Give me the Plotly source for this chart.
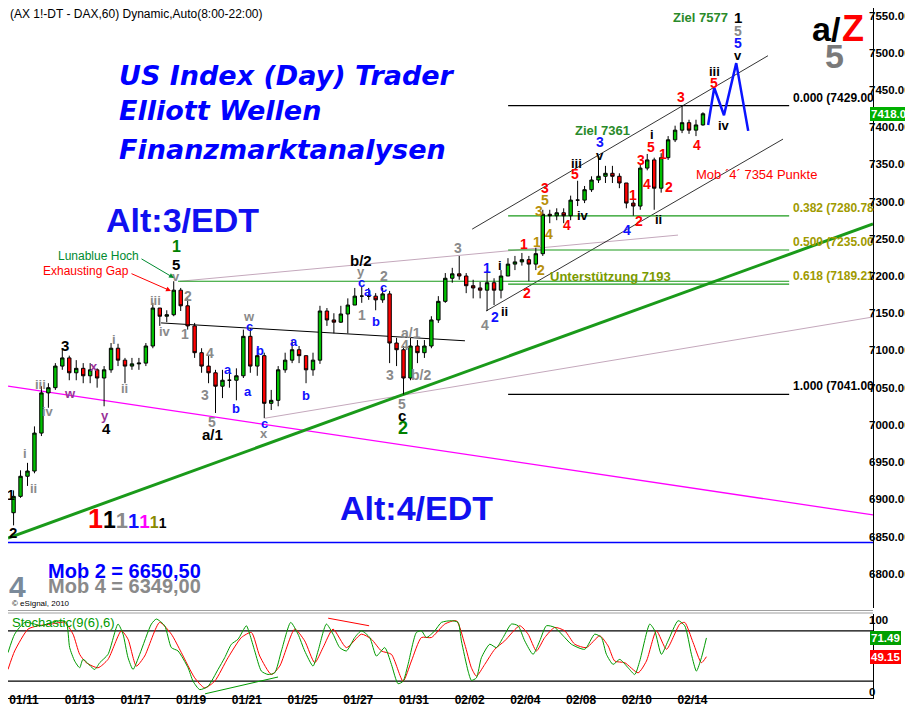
import plotly.graph_objects as go

# ------------------------------------------------------------------ data
TRADING_DAYS = ["01/11", "01/12", "01/13", "01/14", "01/17", "01/18", "01/19", "01/20", "01/21",
                "01/24", "01/25", "01/26", "01/27", "01/28", "01/31", "02/01", "02/02", "02/03",
                "02/04", "02/07", "02/08", "02/09", "02/10", "02/11", "02/14"]
TICK_LABELS = TRADING_DAYS[::2]
BARS_PER_DAY = 4
PRICE_TICKS = list(range(6800, 7551, 50))

FIRST_OPEN = 6882
CLOSE = [6904, 6931, 6938, 6989, 7043, 7050, 7079, 7090, 7070, 7076,
         7066, 7074, 7063, 7074, 7103, 7087, 7079, 7082, 7083, 7106,
         7157, 7146, 7148, 7181, 7160, 7133, 7097, 7079, 7070, 7052,
         7060, 7060, 7066, 7119, 7079, 7093, 7029, 7033, 7074, 7087,
         7101, 7093, 7074, 7087, 7153, 7141, 7138, 7149, 7161, 7173,
         7173, 7173, 7168, 7176, 7110, 7101, 7063, 7106, 7097, 7106,
         7141, 7166, 7197, 7203, 7200, 7187, 7184, 7181, 7191, 7181,
         7200, 7216, 7219, 7222, 7216, 7230, 7283, 7281, 7285, 7281,
         7302, 7302, 7316, 7329, 7334, 7338, 7334, 7325, 7298, 7294,
         7345, 7356, 7318, 7359, 7383, 7396, 7406, 7396, 7403, 7418]
HIGH = [6912, 6939, 6949, 6998, 7052, 7056, 7083, 7103, 7093, 7087,
        7083, 7083, 7076, 7079, 7110, 7109, 7090, 7090, 7090, 7110,
        7164, 7157, 7154, 7193, 7184, 7170, 7137, 7103, 7093, 7074,
        7074, 7076, 7076, 7128, 7130, 7103, 7097, 7047, 7079, 7097,
        7113, 7106, 7093, 7097, 7160, 7157, 7150, 7160, 7170, 7184,
        7187, 7184, 7177, 7184, 7180, 7117, 7106, 7117, 7114, 7114,
        7146, 7173, 7204, 7211, 7227, 7204, 7195, 7192, 7208, 7197,
        7208, 7224, 7227, 7231, 7227, 7238, 7289, 7289, 7291, 7291,
        7308, 7328, 7321, 7334, 7361, 7348, 7348, 7338, 7325, 7312,
        7350, 7364, 7359, 7365, 7388, 7402, 7429, 7410, 7410, 7420]
LOW = [6865, 6902, 6918, 6935, 6985, 7023, 7047, 7074, 7060, 7060,
       7056, 7056, 7050, 7025, 7070, 7079, 7056, 7074, 7074, 7079,
       7103, 7133, 7138, 7146, 7153, 7128, 7090, 7070, 7056, 7016,
       7036, 7050, 7033, 7063, 7070, 7066, 7009, 7020, 7025, 7070,
       7083, 7083, 7056, 7066, 7082, 7133, 7123, 7137, 7123, 7161,
       7164, 7168, 7154, 7164, 7083, 7079, 7041, 7060, 7083, 7090,
       7103, 7137, 7164, 7191, 7195, 7177, 7170, 7170, 7153, 7161,
       7170, 7200, 7208, 7214, 7193, 7208, 7227, 7271, 7275, 7271,
       7275, 7294, 7298, 7313, 7325, 7325, 7325, 7318, 7291, 7281,
       7289, 7342, 7289, 7312, 7356, 7380, 7392, 7391, 7388, 7402]

# stochastic (%K green, %D red), x in trading-day units
STOCH_K_DAY = [-0.575, -0.335, 0.024, 0.383, 0.622, 0.981, 1.340, 1.520, 1.639, 1.819, 1.998, 2.118,
               2.537, 2.717, 3.016, 3.375, 3.555, 3.734, 3.914, 4.153, 4.572, 4.751, 5.051, 5.290,
               5.530, 5.889, 6.068, 6.308, 6.607, 6.966, 7.205, 7.445, 7.684, 7.983, 8.103, 8.283,
               8.522, 8.761, 9.001, 9.240, 9.575, 9.838, 10.077, 10.377, 10.557, 10.856, 11.095,
               11.335, 11.574, 11.873, 12.113, 12.412, 12.651, 12.951, 13.190, 13.429, 13.609,
               13.788, 14.087, 14.267, 14.447, 14.746, 14.985, 15.344, 15.583, 15.703, 15.943,
               16.062, 16.242, 16.421, 16.721, 16.960, 17.199, 17.498, 17.738, 17.977, 18.276,
               18.516, 18.755, 19.054, 19.413, 19.652, 20.131, 20.490, 20.729, 20.909, 21.149,
               21.388, 21.687, 21.927, 22.106, 22.466, 22.645, 22.884, 23.124, 23.483, 23.722,
               23.961, 24.141, 24.320, 24.500]
STOCH_K = [54, 76, 90, 88, 86, 90, 92, 90, 60, 44, 36, 46,
           34, 42, 52, 88, 76, 48, 34, 52, 88, 94, 86, 60,
           56, 36, 20, 10, 14, 34, 48, 64, 70, 86, 76, 56,
           32, 28, 30, 56, 90, 76, 56, 38, 56, 88, 76,
           60, 56, 72, 80, 72, 50, 60, 40, 17, 20,
           40, 78, 80, 72, 80, 90, 92, 90, 68, 32,
           21, 24, 48, 64, 60, 72, 88, 86, 68, 52,
           68, 86, 84, 72, 64, 58, 76, 72, 52, 40,
           46, 36, 28, 44, 88, 80, 52, 68, 92, 86,
           52, 32, 48, 71.49]
STOCH_D_DAY = [-0.575, -0.335, 0.144, 0.503, 0.981, 1.460, 1.759, 1.998, 2.238, 2.657, 3.016, 3.495,
               3.734, 4.033, 4.332, 4.871, 5.290, 5.649, 6.128, 6.487, 6.846, 7.325, 7.804, 8.163,
               8.462, 8.881, 9.181, 9.719, 10.077, 10.437, 10.736, 11.095, 11.574, 12.113, 12.472,
               12.831, 13.190, 13.609, 13.908, 14.267, 14.626, 15.105, 15.524, 15.823, 16.062,
               16.242, 16.541, 16.900, 17.259, 17.798, 18.097, 18.396, 18.695, 19.054, 19.413,
               19.773, 20.191, 20.670, 20.969, 21.208, 21.568, 22.047, 22.346, 22.705, 23.064,
               23.543, 23.722, 24.021, 24.320, 24.500]
STOCH_D = [34, 56, 82, 86, 88, 90, 76, 52, 42, 36, 46, 80,
           70, 38, 50, 90, 76, 54, 24, 12, 20, 48, 72, 78,
           50, 28, 38, 82, 68, 42, 60, 82, 60, 76, 70,
           56, 52, 20, 44, 72, 72, 88, 92, 64, 36,
           26, 40, 58, 68, 86, 76, 56, 72, 84, 80,
           64, 60, 74, 62, 44, 42, 30, 44, 80, 58,
           88, 90, 66, 42, 49.15]

# projected wave path (day, price)
PROJ_DAY = [24.56, 24.78, 25.13, 25.57, 26.0]
PROJ_PRICE = [7403, 7453, 7416, 7486, 7395]

FIB_LEVELS = [("0.000", 7429.00), ("0.382", 7280.78), ("0.500", 7235.00), ("0.618", 7189.21), ("1.000", 7041.00)]
SUPPORT = 7193
MOB_LINE = 6842
LAST_PRICE = 7418.00
STOCH_LAST_K, STOCH_LAST_D = 71.49, 49.15

# ------------------------------------------------------------------ geometry
W, H = 865.0, 690.0          # plot area in px (l=0, t=0)
XR = [-0.575, 30.48]
YR = [6754.0, 7560.1]
SPLIT = 600.0                # price panel bottom (px)
ST_TOP = 606.0
RSHIFT = -4                  # right-axis label nudge (px)


def px(x):
    return x / W


def py(y):
    return (H - y) / H


OPEN = [FIRST_OPEN] + CLOSE[:-1]
BAR_X = [-0.5 + (k + 0.5) / BARS_PER_DAY for k in range(len(CLOSE))]

fig = go.Figure()
fig.add_trace(go.Candlestick(
    x=BAR_X, open=OPEN, high=HIGH, low=LOW, close=CLOSE,
    increasing=dict(line=dict(color="black", width=1), fillcolor="#00c000"),
    decreasing=dict(line=dict(color="black", width=1), fillcolor="#ff0000"),
    whiskerwidth=0, xaxis="x", yaxis="y", showlegend=False, hoverinfo="skip"))

fig.add_trace(go.Scatter(x=PROJ_DAY, y=PROJ_PRICE, mode="lines",
                         line=dict(color="#0a14ff", width=2.5), xaxis="x", yaxis="y",
                         showlegend=False, hoverinfo="skip"))

fig.add_trace(go.Scatter(x=STOCH_D_DAY, y=STOCH_D, mode="lines",
                         line=dict(color="#ff0000", width=1, shape="spline", smoothing=0.6),
                         xaxis="x", yaxis="y2", showlegend=False, hoverinfo="skip"))
fig.add_trace(go.Scatter(x=STOCH_K_DAY, y=STOCH_K, mode="lines",
                         line=dict(color="#009a00", width=1, shape="spline", smoothing=0.6),
                         xaxis="x", yaxis="y2", showlegend=False, hoverinfo="skip"))

shapes = []


def seg(x0, y0, x1, y1, color, width=1, yref="y"):
    shapes.append(dict(type="line", xref="x", yref=yref, x0=x0, y0=y0, x1=x1, y1=y1,
                       line=dict(color=color, width=width), layer="below"))


# trend lines / channels (day, price)
seg(XR[0], 7052, XR[1], 6879, "#ff00ff", 1.3)
seg(XR[0], MOB_LINE, XR[1], MOB_LINE, "#0000ff", 1.5)
seg(5.60, 7193, 23.48, 7255, "#c4a8bc", 1)
seg(8.65, 7009, XR[1], 7145, "#c4a8bc", 1)
seg(4.92, 7137, 15.83, 7113, "#000000", 1)
seg(16.09, 7263, 26.71, 7496, "#000000", 0.8)
seg(16.59, 7153, 27.25, 7384, "#000000", 0.8)
seg(5.53, SUPPORT, 27.47, SUPPORT, "#1a9a1a", 1.2)
for name, lvl in FIB_LEVELS:
    col = "#000000" if name in ("0.000", "1.000") else "#1a9a1a"
    seg(17.38, lvl, 27.47, lvl, col, 1.2)
seg(XR[0], 6848, XR[1], 7270, "#1a9a1a", 3)

# stochastic guide lines
seg(XR[0], 80, XR[1], 80, "#000000", 1.2, yref="y2")
seg(XR[0], 20, XR[1], 20, "#000000", 1.2, yref="y2")
seg(10.92, 95, 12.39, 86, "#ff0000", 1, yref="y2")
seg(6.50, 5, 9.12, 25, "#009a00", 1, yref="y2")

# panel separator
for yy in (602.5, 605.0):
    shapes.append(dict(type="line", xref="paper", yref="paper", x0=0, x1=1,
                       y0=py(yy), y1=py(yy), line=dict(color="#a0a0a0", width=1.2)))

ann = []
FONT = "Liberation Sans, Arial, sans-serif"


def label(x, y, text, color, size=13, bold=True, xanchor="center", family=FONT, style="normal"):
    ann.append(dict(x=px(x), y=py(y), xref="paper", yref="paper", text=text, showarrow=False,
                    xanchor=xanchor, yanchor="middle",
                    font=dict(family=family, size=size, color=color,
                              weight="bold" if bold else "normal", style=style)))


GRAY, BLK, RED, BLUE, GOLD, GRN, PUR = "#8a8a8a", "#000000", "#ff0000", "#1010ff", "#b8900b", "#008000", "#993399"

# headline texts
HEAD = "DejaVu Sans, Verdana, sans-serif"
label(109, 67, "US Index (Day) Trader", "#0000ff", 27, True, "left", HEAD, "italic")
label(109, 102, "Elliott Wellen", "#0000ff", 27, True, "left", HEAD, "italic")
label(109, 142, "Finanzmarktanalysen", "#0000ff", 27, True, "left", HEAD, "italic")
label(174, 212, "Alt:3/EDT", "#1010f0", 34, True)
label(408, 500, "Alt:4/EDT", "#1010f0", 34, True)
label(0, 6, "(AX 1!-DT - DAX,60) Dynamic,Auto(8:00-22:00)", BLK, 12, False, "left")
label(38, 563, "Mob 2 = 6650,50", "#0000ff", 20, True, "left")
label(38, 578, "Mob 4 = 6349,00", "#8a8a8a", 20, True, "left")
label(9, 578, "4", "#7a8a9a", 30, True)
label(2, 595, "© eSignal, 2010", BLK, 8, False, "left")
label(748, 166, "Mob ´4´ 7354 Punkte", RED, 13, False)
label(594, 122, "Ziel 7361", "#2a8a2a", 13, True)
label(692, 9, "Ziel 7577", "#2a8a2a", 13, True)
label(602, 268, "Unterstützung 7193", "#7a9a00", 13, True)
label(90, 248, "Lunablue Hoch", "#008a30", 12, False)
label(78, 263, "Exhausting Gap", RED, 12, False)
label(818, 21, "a/", BLK, 34, True)
label(845, 20, "Z", RED, 36, True)
label(826, 48, "5", "#7a7a7a", 34, True)
label(2, 614, "Stochastic(9(6),6)", "#009a00", 13, False, "left")

# multicolour ones
ann.append(dict(x=px(78), y=py(528), xref="paper", yref="paper", showarrow=False,
                xanchor="left", yanchor="bottom",
                text="<span style='color:#ff0000;font-size:27px'>1</span>"
                     "<span style='color:#000000;font-size:23px'>1</span>"
                     "<span style='color:#8a8a8a;font-size:22px'>1</span>"
                     "<span style='color:#1010ff;font-size:20px'>1</span>"
                     "<span style='color:#ff00ff;font-size:19px'>1</span>"
                     "<span style='color:#8a8a00;font-size:16px'>1</span>"
                     "<span style='color:#000000;font-size:14px'>1</span>",
                font=dict(family=FONT, size=20, weight="bold")))

# fib labels
for name, lvl in FIB_LEVELS:
    col = BLK if name in ("0.000", "1.000") else "#a09a00"
    ann.append(dict(x=px(783), y=lvl, xref="paper", yref="y", yshift=8, showarrow=False,
                    xanchor="left", yanchor="middle", text=f"{name} ({lvl:.2f}",
                    font=dict(family=FONT, size=12, color=col, weight="bold")))

# wave labels (px, py, text, colour, size)
WAVES = [
    (168, 238, "1", GRN, 16), (168, 256, "5", BLK, 15), (168, 268, "v", GRAY, 13),
    (147, 292, "iii", GRAY, 13), (180, 288, "2", GRAY, 14),
    (57, 337, "3", BLK, 15), (62, 385, "w", PUR, 13), (86, 358, "x", PUR, 13),
    (97, 407, "y", PUR, 13), (98, 420, "4", BLK, 15), (106, 331, "i", GRAY, 13),
    (117, 380, "ii", GRAY, 13), (157, 323, "iv", GRAY, 13), (177, 326, "1", GRAY, 14),
    (202, 345, "4", GRAY, 14), (197, 387, "3", GRAY, 14), (204, 414, "5", GRAY, 14),
    (204, 426, "a/1", BLK, 15), (220, 362, "a", BLUE, 13), (228, 400, "b", BLUE, 13),
    (32, 376, "iii", GRAY, 13), (40, 403, "iv", GRAY, 13), (17, 445, "i", GRAY, 13),
    (25, 480, "ii", GRAY, 13), (5, 524, "2", BLK, 15), (3, 487, "1", BLK, 14),
    (241, 308, "w", GRAY, 13), (241, 318, "c", BLUE, 13), (240, 383, "a", BLUE, 13),
    (252, 342, "b", BLUE, 13), (256, 416, "c", BLUE, 13), (256, 425, "x", GRAY, 13),
    (286, 333, "a", BLUE, 13), (298, 387, "b", BLUE, 13), (354, 307, "1", GRAY, 14),
    (353, 274, "c", BLUE, 13), (353, 263, "y", GRAY, 13), (353, 252, "b/2", BLK, 15),
    (360, 283, "a", BLUE, 13), (368, 313, "b", BLUE, 13), (375, 279, "c", BLUE, 13),
    (376, 268, "2", GRAY, 14), (382, 367, "3", GRAY, 14), (397, 337, "4", GRAY, 14),
    (403, 325, "a/1", GRAY, 14), (413, 367, "b/2", GRAY, 14), (394, 396, "5", GRAY, 14),
    (394, 407, "c", BLK, 15), (395, 420, "2", GRN, 18), (450, 240, "3", GRAY, 14),
    (477, 317, "4", GRAY, 14), (487, 309, "2", BLUE, 14), (496, 303, "ii", BLK, 13),
    (479, 260, "1", BLUE, 14), (492, 258, "i", BLK, 13), (516, 236, "1", RED, 14),
    (519, 285, "2", RED, 14), (529, 234, "1", GOLD, 14), (533, 262, "2", GOLD, 14),
    (531, 203, "3", GOLD, 14), (537, 192, "5", GOLD, 14), (537, 180, "3", RED, 14),
    (541, 226, "4", GOLD, 14), (559, 217, "4", RED, 14), (567, 166, "5", RED, 14),
    (568, 155, "iii", BLK, 13), (575, 208, "iv", BLK, 13), (592, 134, "3", BLUE, 14),
    (592, 147, "v", BLK, 13), (625, 187, "1", RED, 14), (619, 222, "4", BLUE, 14),
    (631, 213, "2", RED, 14), (633, 152, "3", RED, 14), (639, 176, "4", RED, 14),
    (643, 139, "5", RED, 14), (644, 127, "i", BLK, 13), (650, 212, "ii", BLK, 13),
    (655, 146, "1", RED, 14), (661, 179, "2", RED, 14), (673, 89, "3", RED, 14),
    (689, 137, "4", RED, 14), (730, 9, "1", BLK, 15), (730, 23, "5", GRAY, 14),
    (730, 35, "5", BLUE, 14), (730, 47, "v", BLK, 13), (706, 63, "iii", BLK, 13),
    (706, 75, "5", RED, 14), (716, 117, "iv", BLK, 13),
]
for x, y, t, c, s in WAVES:
    label(x, y, t, c, s, True)

# arrows
for (x0, y0, x1, y1, c) in [(132, 250, 166, 270, "#008a30"), (122, 265, 163, 283, RED)]:
    ann.append(dict(x=px(x1), y=py(y1), xref="paper", yref="paper", ax=x0 - x1, ay=y0 - y1,
                    axref="pixel", ayref="pixel", text="", showarrow=True,
                    arrowhead=2, arrowsize=1, arrowwidth=1, arrowcolor=c))

# right-axis tick labels (placed flush against the axis line)
AXF = dict(family=FONT, size=11.5, color="black", weight="bold")
for v in PRICE_TICKS:
    ann.append(dict(x=1, y=v, xref="paper", yref="y", xanchor="left", yanchor="middle",
                    xshift=RSHIFT, borderpad=0, borderwidth=0, text=f"{v:.2f}",
                    showarrow=False, font=AXF))
ann.append(dict(x=1, y=100, xref="paper", yref="y2", xanchor="left", yanchor="top",
                xshift=RSHIFT, borderpad=0, borderwidth=0, text="100", showarrow=False, font=AXF))
ann.append(dict(x=1, y=0, xref="paper", yref="y2", xanchor="left", yanchor="bottom",
                xshift=RSHIFT, borderpad=0, borderwidth=0, text="0", showarrow=False, font=AXF))

# right-axis value boxes
BOXF = dict(family=FONT, size=11.5, color="white", weight="bold")
for val, yref, bg in [(LAST_PRICE, "y", "#00b000"), (STOCH_LAST_K, "y2", "#00a000"),
                      (STOCH_LAST_D, "y2", "#ff0000")]:
    ann.append(dict(x=1, y=val, xref="paper", yref=yref, xanchor="left", yanchor="middle",
                    xshift=RSHIFT + 1, text=f"{val:.2f}", showarrow=False, bgcolor=bg,
                    borderpad=1, borderwidth=0, font=BOXF))

fig.update_layout(
    width=913, height=711,
    margin=dict(l=0, r=48, t=0, b=21),
    paper_bgcolor="white", plot_bgcolor="white",
    showlegend=False,
    font=dict(family=FONT),
    xaxis=dict(domain=[0, 1], range=XR, anchor="y2", showgrid=False, zeroline=False,
               tickvals=list(range(0, len(TRADING_DAYS), 2)), ticktext=TICK_LABELS,
               ticks="", ticklen=0, showline=True, linecolor="black", linewidth=1,
               ticklabelstandoff=-9,
               tickfont=dict(family=FONT, size=12, color="black", weight="bold"),
               rangeslider=dict(visible=False), fixedrange=True),
    yaxis=dict(domain=[py(SPLIT), 1], range=YR, side="right", anchor="x",
               showticklabels=False, ticks="", showgrid=False, zeroline=False,
               showline=True, linecolor="black", linewidth=1),
    yaxis2=dict(domain=[0, py(ST_TOP)], range=[0, 100], side="right", anchor="x",
                showticklabels=False, ticks="", showgrid=False, zeroline=False,
                showline=True, linecolor="black", linewidth=1),
    shapes=shapes,
    annotations=ann,
)

fig.write_html("out.html")
